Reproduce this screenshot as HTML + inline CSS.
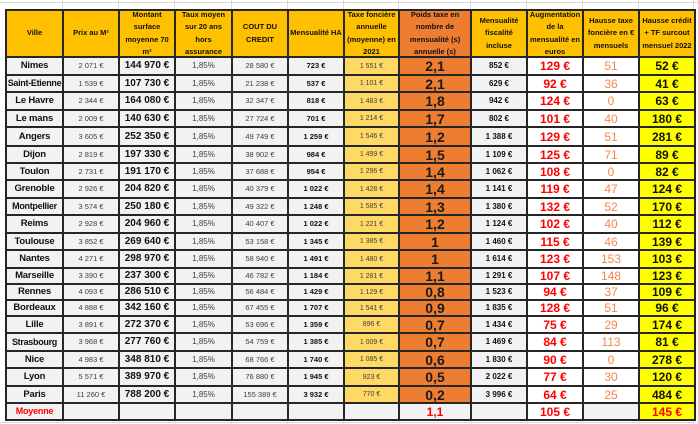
<!DOCTYPE html>
<html><head><meta charset="utf-8"><style>
html,body{margin:0;padding:0;width:698px;height:424px;overflow:hidden;background:#fff;font-family:"Liberation Sans",Arial,sans-serif;}
table{position:absolute;left:5px;top:9px;border-collapse:collapse;table-layout:fixed;width:689px;}
td{border:2px solid #262626;padding:0;text-align:center;vertical-align:middle;overflow:hidden;white-space:nowrap;background:#f2f2f2;color:#404040;font-size:7.5px;line-height:1;}
tr.h td{background:#ffc000;color:#111;font-weight:bold;font-size:7.5px;white-space:normal;}
tr.h td div{height:45px;overflow:hidden;display:flex;align-items:center;justify-content:center;line-height:12.5px;}
tr.h td.p{background:#ed7d31;}
td.v{font-weight:bold;font-size:9.5px;color:#111;letter-spacing:-0.2px;}
td.m{font-weight:bold;font-size:10px;color:#111;}
td.t{font-size:8px;}
td.mh{font-weight:bold;color:#111;font-size:7.5px;}
td.tf{background:#ffd966;font-size:7px;color:#404040;}
td.p{background:#ed7d31;font-weight:bold;font-size:14px;color:#1a1a1a;}
td.mf{font-weight:bold;color:#111;font-size:8px;}
td.a{background:#fff;color:#ff0000;font-weight:bold;font-size:12px;}
td.ht{background:#fff;color:#f4874b;font-size:12px;}
td.hc{background:#ffff00;color:#111;font-weight:bold;font-size:12px;}
tr.moy td.v{color:#ff0000;font-size:9px;}
tr.moy td.p{background:#f2f2f2;color:#ff0000;font-size:12px;}
tr.moy td.hc{color:#ff0000;}
.gl{position:absolute;top:0;width:1px;height:424px;background:#dadada;}
.gh{position:absolute;left:0;height:1px;width:698px;background:#dadada;}
</style></head><body>
<div class="gl" style="left:62px"></div><div class="gl" style="left:118px"></div><div class="gl" style="left:174px"></div><div class="gl" style="left:231px"></div><div class="gl" style="left:287px"></div><div class="gl" style="left:343px"></div><div class="gl" style="left:398px"></div><div class="gl" style="left:470px"></div><div class="gl" style="left:526px"></div><div class="gl" style="left:582px"></div><div class="gl" style="left:638px"></div><div class="gl" style="left:693px"></div>
<div class="gh" style="top:2px"></div><div class="gh" style="top:422px"></div>
<table>
<colgroup><col style="width:57px"><col style="width:56px"><col style="width:56px"><col style="width:57px"><col style="width:56px"><col style="width:56px"><col style="width:55px"><col style="width:72px"><col style="width:56px"><col style="width:56px"><col style="width:56px"><col style="width:56px"></colgroup>
<tr class="h" style="height:47px"><td><div>Ville</div></td><td><div>Prix au M²</div></td><td><div>Montant surface moyenne 70 m²</div></td><td><div>Taux moyen sur 20 ans hors assurance</div></td><td><div>COUT DU CREDIT</div></td><td><div>Mensualité HA</div></td><td><div>Taxe foncière annuelle (moyenne) en 2021</div></td><td class="p"><div>Poids taxe en nombre de mensualité (s) annuelle (s)</div></td><td><div>Mensualité fiscalité incluse</div></td><td><div>Augmentation de la mensualité en euros</div></td><td><div>Hausse taxe foncière en € mensuels</div></td><td><div>Hausse crédit + TF surcout mensuel 2022</div></td></tr>
<tr style="height:18px"><td class="v">Nimes</td><td>2 071 €</td><td class="m">144 970 €</td><td class="t">1,85%</td><td>28 580 €</td><td class="mh">723 €</td><td class="tf">1 551 €</td><td class="p">2,1</td><td class="mf">852 €</td><td class="a">129 €</td><td class="ht">51</td><td class="hc">52 €</td></tr>
<tr style="height:17px"><td class="v" style="font-size:9px;letter-spacing:-0.3px">Saint-Etienne</td><td>1 539 €</td><td class="m">107 730 €</td><td class="t">1,85%</td><td>21 238 €</td><td class="mh">537 €</td><td class="tf">1 101 €</td><td class="p">2,1</td><td class="mf">629 €</td><td class="a">92 €</td><td class="ht">36</td><td class="hc">41 €</td></tr>
<tr style="height:18px"><td class="v">Le Havre</td><td>2 344 €</td><td class="m">164 080 €</td><td class="t">1,85%</td><td>32 347 €</td><td class="mh">818 €</td><td class="tf">1 483 €</td><td class="p">1,8</td><td class="mf">942 €</td><td class="a">124 €</td><td class="ht">0</td><td class="hc">63 €</td></tr>
<tr style="height:17px"><td class="v">Le mans</td><td>2 009 €</td><td class="m">140 630 €</td><td class="t">1,85%</td><td>27 724 €</td><td class="mh">701 €</td><td class="tf">1 214 €</td><td class="p">1,7</td><td class="mf">802 €</td><td class="a">101 €</td><td class="ht">40</td><td class="hc">180 €</td></tr>
<tr style="height:19px"><td class="v">Angers</td><td>3 605 €</td><td class="m">252 350 €</td><td class="t">1,85%</td><td>49 749 €</td><td class="mh">1 259 €</td><td class="tf">1 546 €</td><td class="p">1,2</td><td class="mf">1 388 €</td><td class="a">129 €</td><td class="ht">51</td><td class="hc">281 €</td></tr>
<tr style="height:17px"><td class="v">Dijon</td><td>2 819 €</td><td class="m">197 330 €</td><td class="t">1,85%</td><td>38 902 €</td><td class="mh">984 €</td><td class="tf">1 499 €</td><td class="p">1,5</td><td class="mf">1 109 €</td><td class="a">125 €</td><td class="ht">71</td><td class="hc">89 €</td></tr>
<tr style="height:17px"><td class="v">Toulon</td><td>2 731 €</td><td class="m">191 170 €</td><td class="t">1,85%</td><td>37 688 €</td><td class="mh">954 €</td><td class="tf">1 296 €</td><td class="p">1,4</td><td class="mf">1 062 €</td><td class="a">108 €</td><td class="ht">0</td><td class="hc">82 €</td></tr>
<tr style="height:18px"><td class="v">Grenoble</td><td>2 926 €</td><td class="m">204 820 €</td><td class="t">1,85%</td><td>40 379 €</td><td class="mh">1 022 €</td><td class="tf">1 428 €</td><td class="p">1,4</td><td class="mf">1 141 €</td><td class="a">119 €</td><td class="ht">47</td><td class="hc">124 €</td></tr>
<tr style="height:17px"><td class="v" style="font-size:9px;letter-spacing:-0.3px">Montpellier</td><td>3 574 €</td><td class="m">250 180 €</td><td class="t">1,85%</td><td>49 322 €</td><td class="mh">1 248 €</td><td class="tf">1 585 €</td><td class="p">1,3</td><td class="mf">1 380 €</td><td class="a">132 €</td><td class="ht">52</td><td class="hc">170 €</td></tr>
<tr style="height:18px"><td class="v">Reims</td><td>2 928 €</td><td class="m">204 960 €</td><td class="t">1,85%</td><td>40 407 €</td><td class="mh">1 022 €</td><td class="tf">1 221 €</td><td class="p">1,2</td><td class="mf">1 124 €</td><td class="a">102 €</td><td class="ht">40</td><td class="hc">112 €</td></tr>
<tr style="height:17px"><td class="v">Toulouse</td><td>3 852 €</td><td class="m">269 640 €</td><td class="t">1,85%</td><td>53 158 €</td><td class="mh">1 345 €</td><td class="tf">1 385 €</td><td class="p">1</td><td class="mf">1 460 €</td><td class="a">115 €</td><td class="ht">46</td><td class="hc">139 €</td></tr>
<tr style="height:18px"><td class="v">Nantes</td><td>4 271 €</td><td class="m">298 970 €</td><td class="t">1,85%</td><td>58 940 €</td><td class="mh">1 491 €</td><td class="tf">1 480 €</td><td class="p">1</td><td class="mf">1 614 €</td><td class="a">123 €</td><td class="ht">153</td><td class="hc">103 €</td></tr>
<tr style="height:16px"><td class="v">Marseille</td><td>3 390 €</td><td class="m">237 300 €</td><td class="t">1,85%</td><td>46 782 €</td><td class="mh">1 184 €</td><td class="tf">1 281 €</td><td class="p">1,1</td><td class="mf">1 291 €</td><td class="a">107 €</td><td class="ht">148</td><td class="hc">123 €</td></tr>
<tr style="height:16px"><td class="v">Rennes</td><td>4 093 €</td><td class="m">286 510 €</td><td class="t">1,85%</td><td>56 484 €</td><td class="mh">1 429 €</td><td class="tf">1 129 €</td><td class="p">0,8</td><td class="mf">1 523 €</td><td class="a">94 €</td><td class="ht">37</td><td class="hc">109 €</td></tr>
<tr style="height:16px"><td class="v">Bordeaux</td><td>4 888 €</td><td class="m">342 160 €</td><td class="t">1,85%</td><td>67 455 €</td><td class="mh">1 707 €</td><td class="tf">1 541 €</td><td class="p">0,9</td><td class="mf">1 835 €</td><td class="a">128 €</td><td class="ht">51</td><td class="hc">96 €</td></tr>
<tr style="height:17px"><td class="v">Lille</td><td>3 891 €</td><td class="m">272 370 €</td><td class="t">1,85%</td><td>53 696 €</td><td class="mh">1 359 €</td><td class="tf">896 €</td><td class="p">0,7</td><td class="mf">1 434 €</td><td class="a">75 €</td><td class="ht">29</td><td class="hc">174 €</td></tr>
<tr style="height:18px"><td class="v" style="font-size:9px;letter-spacing:-0.3px">Strasbourg</td><td>3 968 €</td><td class="m">277 760 €</td><td class="t">1,85%</td><td>54 759 €</td><td class="mh">1 385 €</td><td class="tf">1 009 €</td><td class="p">0,7</td><td class="mf">1 469 €</td><td class="a">84 €</td><td class="ht">113</td><td class="hc">81 €</td></tr>
<tr style="height:17px"><td class="v">Nice</td><td>4 983 €</td><td class="m">348 810 €</td><td class="t">1,85%</td><td>68 766 €</td><td class="mh">1 740 €</td><td class="tf">1 085 €</td><td class="p">0,6</td><td class="mf">1 830 €</td><td class="a">90 €</td><td class="ht">0</td><td class="hc">278 €</td></tr>
<tr style="height:18px"><td class="v">Lyon</td><td>5 571 €</td><td class="m">389 970 €</td><td class="t">1,85%</td><td>76 880 €</td><td class="mh">1 945 €</td><td class="tf">923 €</td><td class="p">0,5</td><td class="mf">2 022 €</td><td class="a">77 €</td><td class="ht">30</td><td class="hc">120 €</td></tr>
<tr style="height:17px"><td class="v">Paris</td><td>11 260 €</td><td class="m">788 200 €</td><td class="t">1,85%</td><td>155 389 €</td><td class="mh">3 932 €</td><td class="tf">770 €</td><td class="p">0,2</td><td class="mf">3 996 €</td><td class="a">64 €</td><td class="ht">25</td><td class="hc">484 €</td></tr>
<tr class="moy" style="height:17px"><td class="v">Moyenne</td><td></td><td></td><td></td><td></td><td></td><td></td><td class="p">1,1</td><td></td><td class="a">105 €</td><td></td><td class="hc">145 €</td></tr>
</table>
</body></html>
